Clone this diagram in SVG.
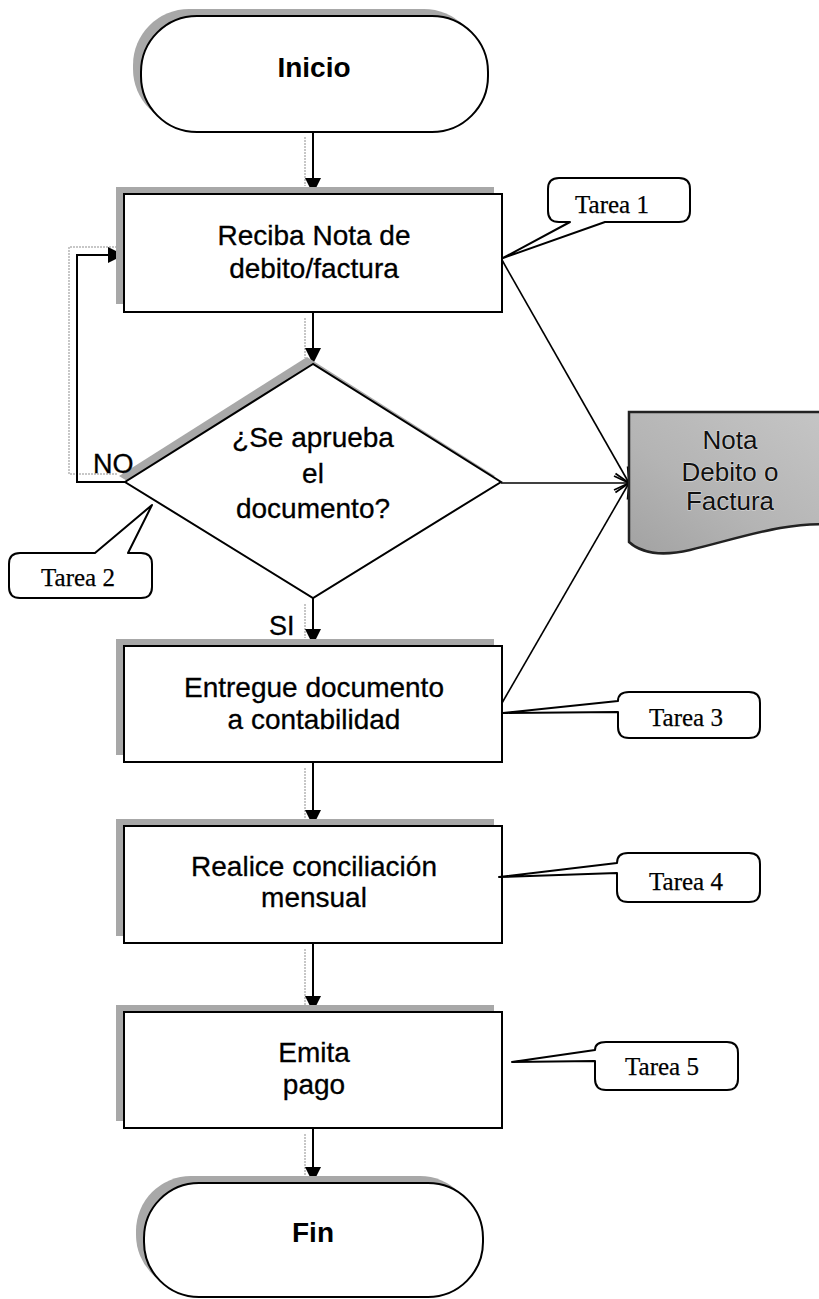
<svg xmlns="http://www.w3.org/2000/svg" width="819" height="1299" viewBox="0 0 819 1299">
<defs>
<style>
.shape{fill:#fff;stroke:#000;stroke-width:2}
.shadow{fill:#a8a8a8;stroke:none}
.sans{font-family:"Liberation Sans",Arial,sans-serif;fill:#000}
.box{font-size:28px;text-anchor:middle;stroke:#000;stroke-width:0.3}
.term{font-size:28px;font-weight:bold;text-anchor:middle}
.lbl{font-size:27px;stroke:#000;stroke-width:0.3}
.doctext{font-family:"Liberation Sans",Arial,sans-serif;font-size:26px;text-anchor:middle;fill:#111;stroke:#dcdcdc;stroke-width:1.2;paint-order:stroke}
.tarea{font-family:"Liberation Serif","Times New Roman",serif;font-size:25px;text-anchor:middle;fill:#000;stroke:#000;stroke-width:0.25}
.call{fill:#fff;stroke:#000;stroke-width:2;stroke-linejoin:round}
.conn{fill:none;stroke:#000;stroke-width:2}
.ghost{fill:none;stroke:#b5b5b5;stroke-width:1.5;stroke-dasharray:2 1}
.thin{fill:none;stroke:#000;stroke-width:1.6}
</style>
<linearGradient id="docfill" x1="1" y1="0" x2="0" y2="1">
<stop offset="0" stop-color="#c6c6c6"/>
<stop offset="0.6" stop-color="#b4b4b4"/>
<stop offset="1" stop-color="#a2a2a2"/>
</linearGradient>
<marker id="arrow" markerUnits="userSpaceOnUse" markerWidth="18" markerHeight="16" viewBox="0 0 18 16" refX="16" refY="8" orient="auto">
<path d="M0,0 L16,8 L0,16 Z" fill="#000"/>
</marker>
<marker id="open" markerUnits="userSpaceOnUse" markerWidth="20" markerHeight="20" viewBox="0 0 20 20" refX="18" refY="10" orient="auto">
<path d="M3,3 L18,10 L3,17" fill="none" stroke="#000" stroke-width="1.8"/>
</marker>
</defs>
<rect width="819" height="1299" fill="#fff"/>

<g id="connectors">
<line class="ghost" x1="305" y1="137" x2="305" y2="186"/>
<line class="ghost" x1="305" y1="318" x2="305" y2="358"/>
<line class="ghost" x1="305" y1="604" x2="305" y2="638"/>
<line class="ghost" x1="305" y1="768" x2="305" y2="820"/>
<line class="ghost" x1="305" y1="949" x2="305" y2="1005"/>
<line class="ghost" x1="305" y1="1134" x2="305" y2="1176"/>
<polyline class="ghost" points="117,474 69,474 69,247 116,247"/>
<line class="conn" x1="313" y1="132" x2="313" y2="194" marker-end="url(#arrow)"/>
<line class="conn" x1="313" y1="312" x2="313" y2="364" marker-end="url(#arrow)"/>
<line class="conn" x1="313" y1="598" x2="313" y2="645" marker-end="url(#arrow)"/>
<line class="conn" x1="313" y1="762" x2="313" y2="826" marker-end="url(#arrow)"/>
<line class="conn" x1="313" y1="943" x2="313" y2="1012" marker-end="url(#arrow)"/>
<line class="conn" x1="313" y1="1128" x2="313" y2="1183" marker-end="url(#arrow)"/>
<polyline class="conn" points="125,482 77,482 77,255 124,255" marker-end="url(#arrow)"/>
<line class="thin" x1="502" y1="260" x2="629" y2="483" marker-end="url(#open)"/>
<line class="thin" x1="501" y1="483" x2="629" y2="483" marker-end="url(#open)"/>
<line class="thin" x1="502" y1="703" x2="629" y2="483" marker-end="url(#open)"/>
</g>

<g id="inicio">
<rect class="shadow" x="133" y="9" width="347" height="116" rx="56" ry="56"/>
<rect class="shape" x="141" y="16" width="347" height="116" rx="56" ry="56"/>
<text class="sans term" x="314" y="77">Inicio</text>
</g>

<g id="reciba">
<rect class="shadow" x="116" y="187" width="378" height="117"/>
<rect class="shape" x="124" y="194" width="378" height="118"/>
<text class="sans box" x="314" y="245">Reciba Nota de</text>
<text class="sans box" x="314" y="278">debito/factura</text>
</g>

<g id="decision">
<polygon class="shadow" points="307,357 119,476 307,591 495,476"/>
<polygon class="shape" points="313,364 125,482 313,598 501,482"/>
<text class="sans box" x="313" y="447">¿Se aprueba</text>
<text class="sans box" x="313" y="483">el</text>
<text class="sans box" x="313" y="518">documento?</text>
<text class="sans lbl" x="93" y="473">NO</text>
<text class="sans lbl" x="269" y="635">SI</text>
</g>

<g id="documento">
<path d="M629,412 H835 V525 C790,520 740,538 690,550 C660,557 640,552 629,542 Z" fill="url(#docfill)" stroke="#222" stroke-width="2.5"/>
<text class="doctext" x="730" y="449">Nota</text>
<text class="doctext" x="730" y="481">Debito o</text>
<text class="doctext" x="730" y="510">Factura</text>
</g>

<g id="entregue">
<rect class="shadow" x="116" y="639" width="378" height="116"/>
<rect class="shape" x="124" y="646" width="378" height="116"/>
<text class="sans box" x="314" y="697">Entregue documento</text>
<text class="sans box" x="314" y="729">a contabilidad</text>
</g>

<g id="realice">
<rect class="shadow" x="116" y="819" width="378" height="117"/>
<rect class="shape" x="124" y="826" width="378" height="117"/>
<text class="sans box" x="314" y="876">Realice conciliación</text>
<text class="sans box" x="314" y="907">mensual</text>
</g>

<g id="emita">
<rect class="shadow" x="116" y="1005" width="378" height="116"/>
<rect class="shape" x="124" y="1012" width="378" height="116"/>
<text class="sans box" x="314" y="1062">Emita</text>
<text class="sans box" x="314" y="1094">pago</text>
</g>

<g id="fin">
<rect class="shadow" x="136" y="1176" width="339" height="114" rx="55" ry="55"/>
<rect class="shape" x="144" y="1183" width="339" height="114" rx="55" ry="55"/>
<text class="sans term" x="313" y="1242">Fin</text>
</g>

<g id="tarea1">
<path class="call" d="M559,178 H679 Q690,178 690,189 V211 Q690,222 679,222 H605 L503,258 L570,222 H559 Q548,222 548,211 V189 Q548,178 559,178 Z"/>
<text class="tarea" x="612" y="213">Tarea 1</text>
</g>

<g id="tarea2">
<path class="call" d="M20,553 H95 L152,505 L128,553 H141 Q152,553 152,564 V587 Q152,598 141,598 H20 Q9,598 9,587 V564 Q9,553 20,553 Z"/>
<text class="tarea" x="78" y="586">Tarea 2</text>
</g>

<g id="tarea3">
<path class="call" d="M629,692 H749 Q760,692 760,703 V727 Q760,738 749,738 H629 Q618,738 618,727 V712 L503,713 L618,701 Q618,692 629,692 Z"/>
<text class="tarea" x="686" y="726">Tarea 3</text>
</g>

<g id="tarea4">
<path class="call" d="M628,853 H749 Q760,853 760,864 V891 Q760,902 749,902 H628 Q617,902 617,891 V873 L499,877 L617,863 Q617,853 628,853 Z"/>
<text class="tarea" x="686" y="890">Tarea 4</text>
</g>

<g id="tarea5">
<path class="call" d="M606,1042 H727 Q738,1042 738,1053 V1079 Q738,1090 727,1090 H606 Q595,1090 595,1079 V1061 L512,1062 L595,1050 Q595,1042 606,1042 Z"/>
<text class="tarea" x="662" y="1075">Tarea 5</text>
</g>
</svg>
